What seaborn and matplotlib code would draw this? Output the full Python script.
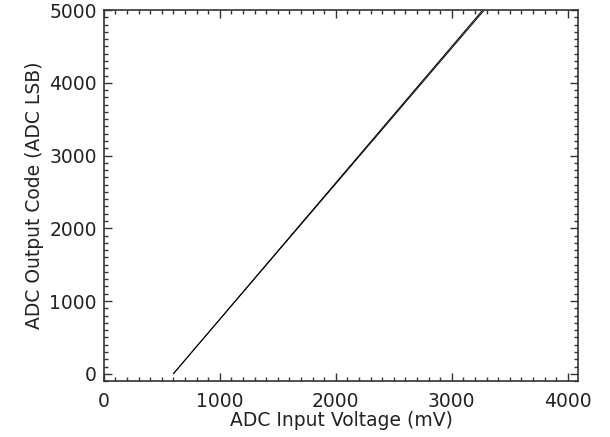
import matplotlib
matplotlib.use('Agg')
import matplotlib.pyplot as plt
import seaborn as sns
import pandas as pd
from matplotlib.ticker import MultipleLocator

# two nearly overlapping transfer curves
voltage_a = [600, 3266]
code_a = [0, 5000]
voltage_b = [600, 3280]
code_b = [0, 5000]

x_ticks = [0, 1000, 2000, 3000, 4000]
y_ticks = [0, 1000, 2000, 3000, 4000, 5000]


def main():
    sns.set_style('ticks')
    plt.rcParams['font.family'] = ['DejaVu Sans']

    df = pd.concat([
        pd.DataFrame({'voltage': voltage_a, 'code': code_a, 'run': 'a'}),
        pd.DataFrame({'voltage': voltage_b, 'code': code_b, 'run': 'b'}),
    ])

    fig = plt.figure(figsize=(6.1, 4.37), dpi=100)
    ax = fig.add_axes([0.170, 0.128, 0.778, 0.849])
    sns.lineplot(data=df, x='voltage', y='code', units='run',
                 estimator=None, color='black', linewidth=0.7, ax=ax,
                 legend=False)

    ax.set_xlim(0, 4090)
    ax.set_ylim(-100, 5000)
    ax.set_xticks(x_ticks)
    ax.set_yticks(y_ticks)
    ax.xaxis.set_minor_locator(MultipleLocator(100))
    ax.yaxis.set_minor_locator(MultipleLocator(100))
    ax.tick_params(which='both', direction='in', top=True, right=True,
                   width=1.0, colors='#333333', labelcolor='#222222',
                   labelsize=13.5)
    ax.tick_params(axis='x', pad=8)
    ax.tick_params(axis='y', pad=5)
    ax.tick_params(which='major', length=6)
    ax.tick_params(which='minor', length=3)
    for side in ax.spines.values():
        side.set_linewidth(1.2)
        side.set_color('#333333')

    ax.set_xlabel('ADC Input Voltage (mV)', fontsize=13.5, labelpad=0,
                  color='#222222')
    ax.set_ylabel('ADC Output Code (ADC LSB)', fontsize=13.5, labelpad=4,
                  color='#222222')
    ax.grid(False)

    fig.savefig('out.png', dpi=100)


if __name__ == '__main__':
    main()
